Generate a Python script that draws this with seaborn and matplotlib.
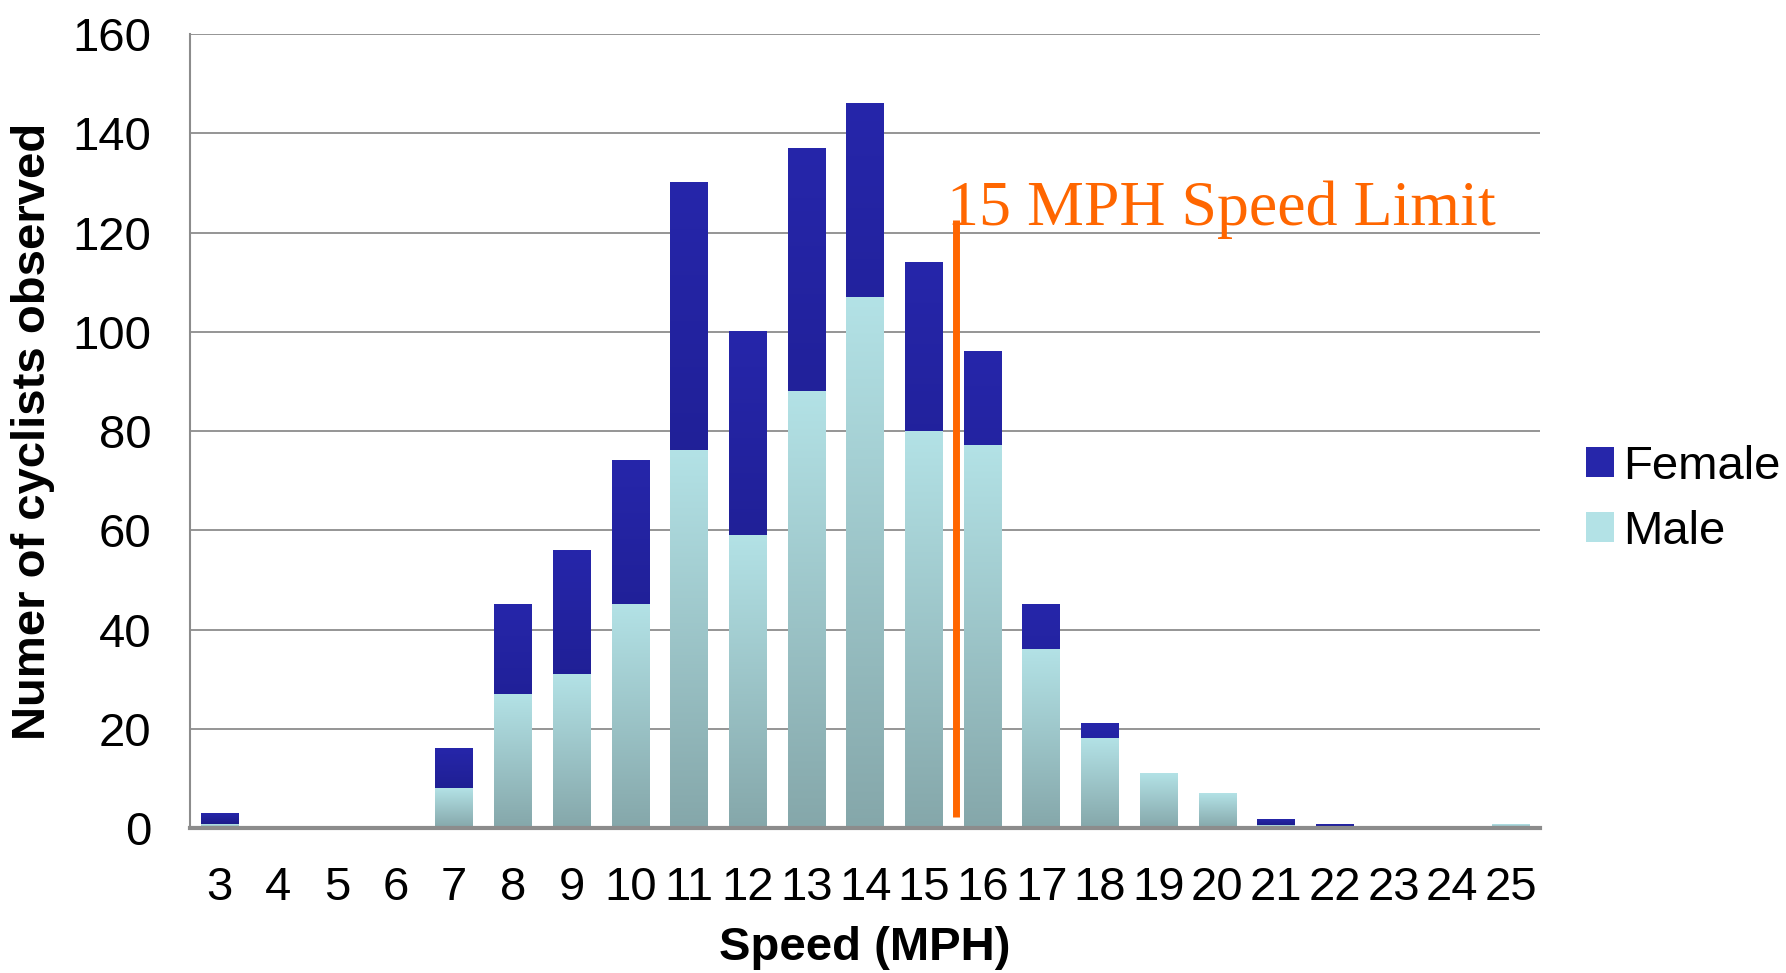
import numpy as np
import pandas as pd
import matplotlib
matplotlib.use("Agg")
import matplotlib.pyplot as plt
import seaborn as sns
from matplotlib.colors import LinearSegmentedColormap
from matplotlib.patches import Patch

speeds = [3, 4, 5, 6, 7, 8, 9, 10, 11, 12, 13, 14, 15, 16, 17, 18, 19, 20, 21, 22, 23, 24, 25]
male = [0.7, 0, 0, 0, 8, 27, 31, 45, 76, 59, 88, 107, 80, 77, 36, 18, 11, 7, 0.5, 0, 0, 0, 0.8]
female = [2.3, 0, 0, 0, 8, 18, 25, 29, 54, 41, 49, 39, 34, 19, 9, 3, 0, 0, 1.3, 0.7, 0, 0, 0]
yticks = [0, 20, 40, 60, 80, 100, 120, 140, 160]
limit_label = "15 MPH Speed Limit"

total = [m + f for m, f in zip(male, female)]
df = pd.DataFrame({"speed": [str(s) for s in speeds], "male": male, "female": female, "total": total})

sns.set_theme(style="white")
plt.rcParams["font.family"] = ["Liberation Sans", "DejaVu Sans"]
plt.rcParams["text.color"] = "black"
plt.rcParams["axes.labelcolor"] = "black"
plt.rcParams["xtick.color"] = "black"
plt.rcParams["ytick.color"] = "black"

fig = plt.figure(figsize=(17.86, 9.73), dpi=100)
ax = fig.add_axes([0.1064, 0.149, 0.756, 0.816])

FEM_TOP, FEM_BOT = "#2626AA", "#18187E"
MAL_TOP, MAL_BOT = "#B3E2E6", "#85A7AA"

sns.barplot(data=df, x="speed", y="total", color=FEM_TOP, width=0.64, ax=ax,
            saturation=1, linewidth=0, zorder=3)
n_fem = len(ax.patches)
sns.barplot(data=df, x="speed", y="male", color=MAL_TOP, width=0.64, ax=ax,
            saturation=1, linewidth=0, zorder=4)

ax.set_ylim(0, 160)
ax.set_xlim(-0.5, len(speeds) - 0.5)

# gradients on each bar
cm_f = LinearSegmentedColormap.from_list("f", [FEM_BOT, FEM_TOP])
cm_m = LinearSegmentedColormap.from_list("m", [MAL_BOT, MAL_TOP])
grad = np.linspace(0, 1, 256).reshape(-1, 1)
for i, p in enumerate(ax.patches):
    h = p.get_height()
    if h <= 0:
        continue
    x0, y0, w = p.get_x(), p.get_y(), p.get_width()
    cmap = cm_f if i < n_fem else cm_m
    ax.imshow(grad, cmap=cmap, origin="lower", aspect="auto",
              extent=[x0, x0 + w, y0, y0 + h], zorder=p.get_zorder() + 0.1,
              interpolation="bilinear")
ax.set_ylim(0, 160)
ax.set_xlim(-0.5, len(speeds) - 0.5)
ax.set_aspect("auto")

ax.set_yticks(yticks)
ax.yaxis.grid(True, color="#8C8C8C", linewidth=1.3, zorder=0)
ax.set_axisbelow(True)
for s in ["top", "right"]:
    ax.spines[s].set_visible(False)
ax.spines["left"].set_color("#8C8C8C")
ax.spines["left"].set_linewidth(1.5)
ax.spines["bottom"].set_color("#8C8C8C")
ax.spines["bottom"].set_linewidth(3)
ax.spines["bottom"].set_zorder(6)
ax.tick_params(axis="both", labelsize=34, length=0, colors="black")
ax.tick_params(axis="y", pad=28)
ax.tick_params(axis="x", pad=27)

ax.set_xlabel("Speed (MPH)", fontsize=34, fontweight="bold", labelpad=12)
ax.set_ylabel("Numer of cyclists observed", fontsize=34, fontweight="bold", labelpad=12)

# speed limit line and label
lx = speeds.index(15) + 0.55
ax.plot([lx, lx], [2.3, 122.5], color="#FF6600", linewidth=5, zorder=7, solid_capstyle="butt")
ax.text(lx - 0.15, 121.5, limit_label, color="#FF6600", fontsize=46,
        family=["Liberation Serif", "DejaVu Serif"], ha="left", va="baseline", zorder=8)

handles = [Patch(facecolor=FEM_TOP, edgecolor="none", label="Female"),
           Patch(facecolor=MAL_TOP, edgecolor="none", label="Male")]
leg = fig.legend(handles=handles, loc="center left", bbox_to_anchor=(0.888, 0.487),
                 frameon=False, fontsize=34, handlelength=0.6, handleheight=0.6,
                 handletextpad=0.18, labelspacing=0.45, borderaxespad=0, borderpad=0)

fig.savefig("out.png", dpi=100)
